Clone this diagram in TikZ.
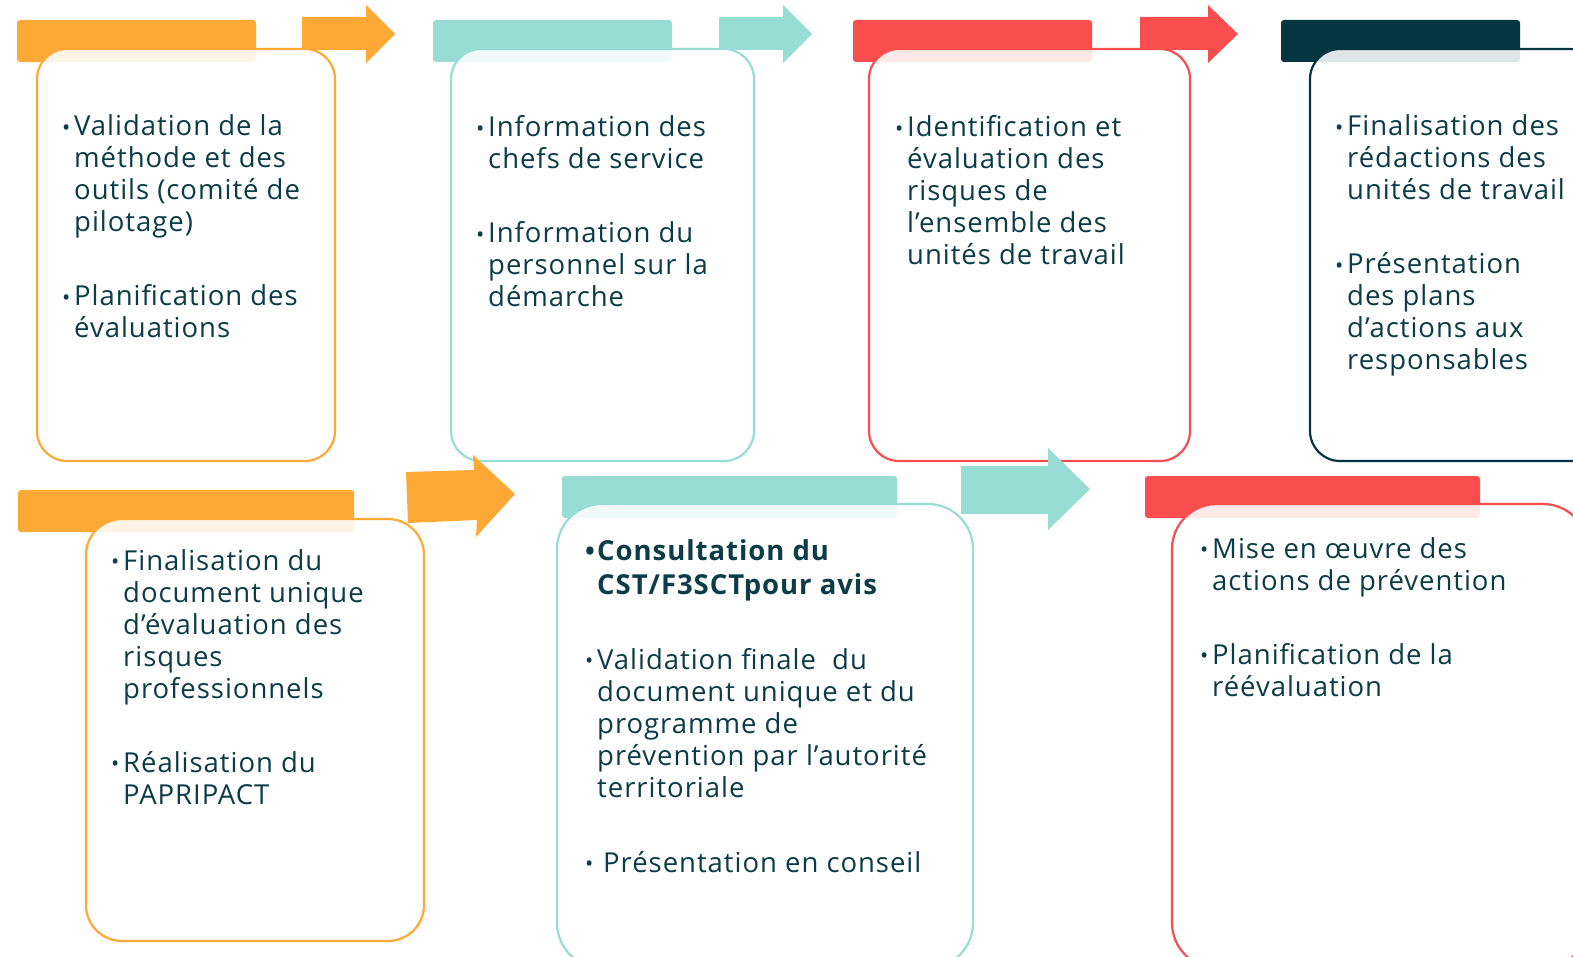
\documentclass[tikz,border=0pt]{standalone}
\usepackage{fontspec}
\setmainfont{Open Sans}[LetterSpace=3.5]
\definecolor{cor}{HTML}{FEA935}
\definecolor{cte}{HTML}{97DDD3}
\definecolor{cre}{HTML}{FA4D4D}
\definecolor{cdk}{HTML}{043642}
\definecolor{ctx}{HTML}{0B3C47}
\newcommand{\bu}{\makebox[12pt][l]{\raisebox{0.5pt}{\fontsize{22}{22}\selectfont\textbullet}}}
\newcommand{\bbu}{\makebox[12pt][l]{\raisebox{0pt}{\fontsize{26}{26}\selectfont\bfseries\textbullet}}}
\tikzset{
  bar/.style={fill=#1, rounded corners=3pt},
  card/.style={draw=#1, line width=2.2pt, fill=white, fill opacity=0.88},
  arr/.style={fill=#1},
  txt/.style={anchor=base west, inner sep=0pt, text=ctx, font=\fontsize{27.5}{32}\selectfont, align=left}
}
\begin{document}
\begin{tikzpicture}[x=1pt,y=-1pt]
\useasboundingbox (0,0) rectangle (1573,957);
\clip (0,0) rectangle (1573,957);
% headers
\fill[bar=cor] (17,20) rectangle (256,62);
\fill[bar=cte] (433,20) rectangle (672,62);
\fill[bar=cre] (853,20) rectangle (1092,62);
\fill[bar=cdk] (1281,20) rectangle (1520,62);
\fill[bar=cor] (18,490) rectangle (354,532);
\fill[bar=cte] (562,476) rectangle (897,518);
\fill[bar=cre] (1145,476) rectangle (1480,518);
% cards
\draw[card=cor, rounded corners=30pt] (37,49) rectangle (335,461);
\draw[card=cte, rounded corners=30pt] (451,49) rectangle (754,461);
\draw[card=cre, rounded corners=30pt] (869,49) rectangle (1190,461);
\draw[card=cdk, rounded corners=30pt] (1310,49) rectangle (1600,461);
\draw[card=cor, rounded corners=36pt] (86,519) rectangle (424,941);
\draw[card=cte, rounded corners=45pt] (557,504) rectangle (973,968);
\draw[card=cre, rounded corners=45pt] (1172,504) rectangle (1588,968);
% arrows
\fill[arr=cor] (302,17) -- (366,17) -- (366,5) -- (395,34) -- (366,63) -- (366,50) -- (302,50) -- cycle;
\fill[arr=cte] (719,17) -- (783,17) -- (783,5) -- (812,34) -- (783,63) -- (783,50) -- (719,50) -- cycle;
\fill[arr=cre] (1140,17) -- (1208,17) -- (1208,5) -- (1238,34) -- (1208,63) -- (1208,50) -- (1140,50) -- cycle;
\fill[arr=cor] (406,472) -- (474,470) -- (473,455) -- (515,494) -- (476,537) -- (477,520) -- (408,523) -- cycle;
\fill[arr=cte] (961,466) -- (1048,466) -- (1048,448) -- (1090,489) -- (1048,530) -- (1048,514) -- (961,514) -- cycle;
% texts
\node[txt] (t1) at (62,136) {\begin{tabular}[t]{@{}l@{}l@{}}
\bu & Validation de la\\ & méthode et des\\ & outils (comité de\\ & pilotage)\\[42pt]
\bu & Planification des\\ & évaluations
\end{tabular}};
\node[txt] (t2) at (476,137) {\begin{tabular}[t]{@{}l@{}l@{}}
\bu & Information des\\ & chefs de service\\[42pt]
\bu & Information du\\ & personnel sur la\\ & démarche
\end{tabular}};
\node[txt] (t3) at (895,137) {\begin{tabular}[t]{@{}l@{}l@{}}
\bu & Identification et\\ & évaluation des\\ & risques de\\ & l’ensemble des\\ & unités de travail
\end{tabular}};
\node[txt] (t4) at (1335,136) {\begin{tabular}[t]{@{}l@{}l@{}}
\bu & Finalisation des\\ & rédactions des\\ & unités de travail\\[42pt]
\bu & Présentation\\ & des plans\\ & d’actions aux\\ & responsables
\end{tabular}};
\node[txt] (t5) at (111,570) {\begin{tabular}[t]{@{}l@{}l@{}}
\bu & Finalisation du\\ & document unique\\ & d’évaluation des\\ & risques\\ & professionnels\\[42pt]
\bu & Réalisation du\\ & PAPRIPACT
\end{tabular}};
\node[txt] (t6) at (585,560) {\begin{tabular}[t]{@{}l@{}l@{}}
\bbu & \textbf{Consultation du}\\[2pt] & \textbf{CST/F3SCTpour avis}\\[43pt]
\bu & Validation finale\ \ du\\ & document unique et du\\ & programme de\\ & prévention par l’autorité\\ & territoriale\\[43pt]
\bu & \hspace{6pt}Présentation en conseil
\end{tabular}};
\node[txt] (t7) at (1200,558) {\begin{tabular}[t]{@{}l@{}l@{}}
\bu & Mise en œuvre des\\ & actions de prévention\\[42pt]
\bu & Planification de la\\ & réévaluation
\end{tabular}};
\end{tikzpicture}
\end{document}
